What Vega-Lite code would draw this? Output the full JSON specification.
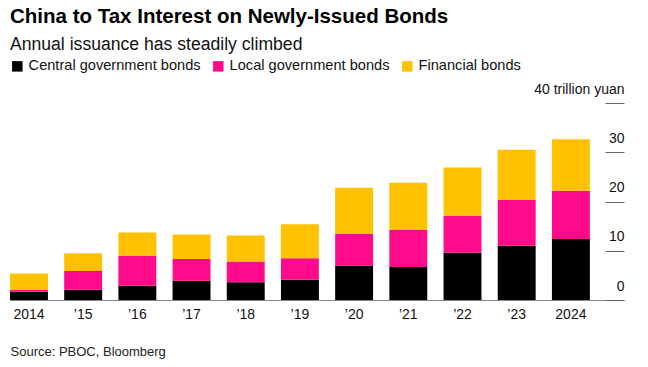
{
  "$schema": "https://vega.github.io/schema/vega-lite/v6.json",
  "width": 614,
  "height": 197,
  "autosize": {"type": "none"},
  "padding": {"left": 10, "top": 103, "right": 24, "bottom": 67},
  "background": "white",
  "config": {"font": "Liberation Sans", "view": {"stroke": null}},
  "title": {
    "text": "China to Tax Interest on Newly-Issued Bonds",
    "subtitle": "Annual issuance has steadily climbed",
    "anchor": "start",
    "frame": "group",
    "fontSize": 20.5,
    "fontWeight": "bold",
    "color": "#000000",
    "subtitleFontSize": 17.6,
    "subtitleColor": "#111111",
    "subtitlePadding": 9,
    "offset": 5
  },
  "data": {
    "values": [
      {"year": "2014", "series": "Central government bonds", "ord": 1, "value": 1.7},
      {"year": "2014", "series": "Local government bonds", "ord": 2, "value": 0.4},
      {"year": "2014", "series": "Financial bonds", "ord": 3, "value": 3.3},
      {"year": "2015", "series": "Central government bonds", "ord": 1, "value": 2.1},
      {"year": "2015", "series": "Local government bonds", "ord": 2, "value": 3.8},
      {"year": "2015", "series": "Financial bonds", "ord": 3, "value": 3.6},
      {"year": "2016", "series": "Central government bonds", "ord": 1, "value": 2.9},
      {"year": "2016", "series": "Local government bonds", "ord": 2, "value": 6.1},
      {"year": "2016", "series": "Financial bonds", "ord": 3, "value": 4.7},
      {"year": "2017", "series": "Central government bonds", "ord": 1, "value": 3.9},
      {"year": "2017", "series": "Local government bonds", "ord": 2, "value": 4.4},
      {"year": "2017", "series": "Financial bonds", "ord": 3, "value": 5.0},
      {"year": "2018", "series": "Central government bonds", "ord": 1, "value": 3.6},
      {"year": "2018", "series": "Local government bonds", "ord": 2, "value": 4.2},
      {"year": "2018", "series": "Financial bonds", "ord": 3, "value": 5.3},
      {"year": "2019", "series": "Central government bonds", "ord": 1, "value": 4.1},
      {"year": "2019", "series": "Local government bonds", "ord": 2, "value": 4.4},
      {"year": "2019", "series": "Financial bonds", "ord": 3, "value": 6.9},
      {"year": "2020", "series": "Central government bonds", "ord": 1, "value": 7.0},
      {"year": "2020", "series": "Local government bonds", "ord": 2, "value": 6.4},
      {"year": "2020", "series": "Financial bonds", "ord": 3, "value": 9.4},
      {"year": "2021", "series": "Central government bonds", "ord": 1, "value": 6.7},
      {"year": "2021", "series": "Local government bonds", "ord": 2, "value": 7.5},
      {"year": "2021", "series": "Financial bonds", "ord": 3, "value": 9.6},
      {"year": "2022", "series": "Central government bonds", "ord": 1, "value": 9.6},
      {"year": "2022", "series": "Local government bonds", "ord": 2, "value": 7.5},
      {"year": "2022", "series": "Financial bonds", "ord": 3, "value": 9.8},
      {"year": "2023", "series": "Central government bonds", "ord": 1, "value": 11.0},
      {"year": "2023", "series": "Local government bonds", "ord": 2, "value": 9.3},
      {"year": "2023", "series": "Financial bonds", "ord": 3, "value": 10.2},
      {"year": "2024", "series": "Central government bonds", "ord": 1, "value": 12.4},
      {"year": "2024", "series": "Local government bonds", "ord": 2, "value": 9.8},
      {"year": "2024", "series": "Financial bonds", "ord": 3, "value": 10.45}
    ]
  },
  "mark": {"type": "bar"},
  "encoding": {
    "x": {
      "field": "year",
      "type": "ordinal",
      "scale": {"paddingInner": 0.3, "paddingOuter": 0.315, "align": 0},
      "axis": {
        "title": "Source: PBOC, Bloomberg",
        "titleAnchor": "start",
        "titleAlign": "left",
        "titleBaseline": "top",
        "titleX": 0,
        "titleY": 45,
        "titleFontSize": 13,
        "titleFontWeight": "normal",
        "titleColor": "#222222",
        "labelAngle": 0,
        "labelFontSize": 14,
        "labelColor": "#111111",
        "labelPadding": 7,
        "labelExpr": "datum.value == '2014' || datum.value == '2024' ? datum.value : '\u2019' + slice(datum.value, 2)",
        "ticks": false,
        "domainColor": "#888888",
        "domainWidth": 1.2,
        "grid": false
      }
    },
    "y": {
      "field": "value",
      "type": "quantitative",
      "aggregate": "sum",
      "stack": "zero",
      "scale": {"domain": [0, 40], "nice": false},
      "axis": {
        "orient": "right",
        "title": null,
        "values": [0, 10, 20, 30, 40],
        "grid": false,
        "domain": false,
        "ticks": true,
        "tickSize": -19,
        "tickColor": "#666666",
        "labelPadding": 19,
        "labelAlign": "right",
        "labelBaseline": "alphabetic",
        "labelOffset": -10,
        "labelFontSize": 14,
        "labelColor": "#111111",
        "labelExpr": "datum.value == 40 ? '40 trillion yuan' : datum.label"
      }
    },
    "color": {
      "field": "series",
      "type": "nominal",
      "scale": {
        "domain": ["Central government bonds", "Local government bonds", "Financial bonds"],
        "range": ["#000000", "#FF0A8A", "#FFC100"]
      },
      "legend": {
        "orient": "none",
        "legendX": 0,
        "legendY": -44,
        "direction": "horizontal",
        "title": null,
        "symbolType": "square",
        "symbolSize": 110,
        "symbolStrokeWidth": 0,
        "labelFontSize": 14.6,
        "labelLimit": 400,
        "labelColor": "#111111",
        "labelOffset": 4,
        "columnPadding": 10
      }
    },
    "order": {"field": "ord", "type": "quantitative"}
  }
}
